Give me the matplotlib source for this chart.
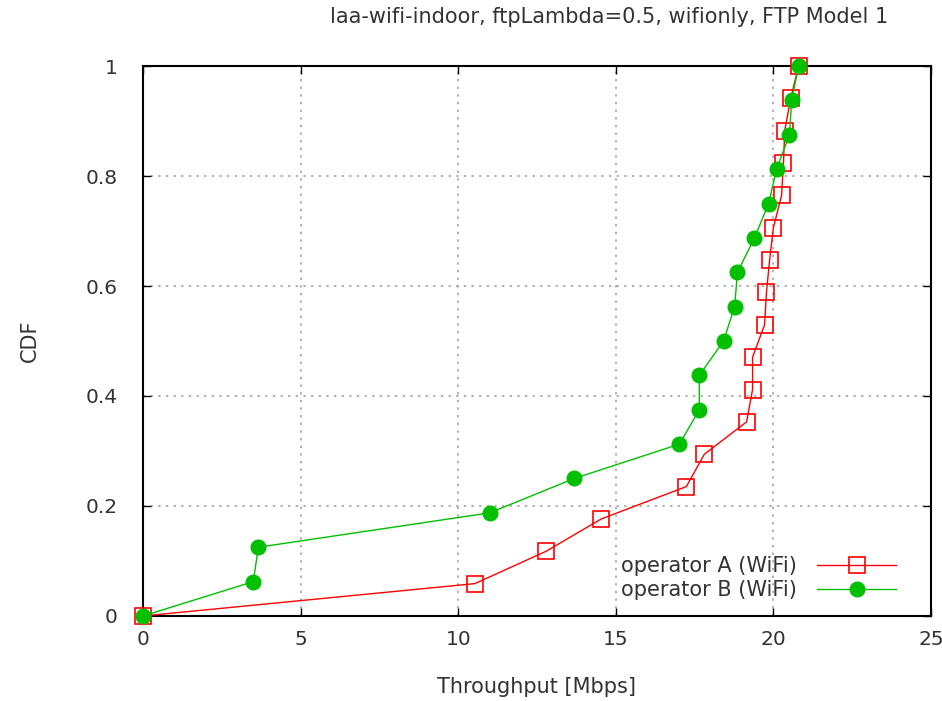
import matplotlib
matplotlib.use('Agg')
import matplotlib.pyplot as plt

# CDF data
a_thr = [0.0, 10.53, 12.79, 14.54, 17.24, 17.81, 19.15, 19.34, 19.34, 19.72,
         19.78, 19.88, 20.0, 20.26, 20.32, 20.36, 20.55, 20.8]
a_cdf = [i / 17 for i in range(18)]
b_thr = [0.0, 3.5, 3.66, 11.0, 13.68, 17.02, 17.65, 17.65, 18.42, 18.77,
         18.86, 19.4, 19.85, 20.1, 20.51, 20.58, 20.8]
b_cdf = [i / 16 for i in range(17)]

xticks = [0, 5, 10, 15, 20, 25]
yticks = [0, 0.2, 0.4, 0.6, 0.8, 1]
ytick_labels = ['0', '0.2', '0.4', '0.6', '0.8', '1']

plt.rcParams['font.family'] = ['DejaVu Sans']
plt.rcParams['font.size'] = 15

fig = plt.figure(figsize=(9.42, 7.01), dpi=100)
ax = fig.add_axes([0.1518, 0.1213, 0.8365, 0.7845])

ax.plot(a_thr, a_cdf, color='#ff0000', lw=1.0, marker='s', markersize=12,
        markerfacecolor='none', markeredgecolor='#ff0000', markeredgewidth=1.2,
        label='operator A (WiFi)', clip_on=False, zorder=3)
ax.plot(b_thr, b_cdf, color='#00c000', lw=1.0, marker='o', markersize=10.5,
        markerfacecolor='#00c000', markeredgecolor='#00c000',
        label='operator B (WiFi)', clip_on=False, zorder=4)

ax.set_xlim(0, 25)
ax.set_ylim(0, 1)
ax.set_xticks(xticks)
ax.set_yticks(yticks)
ax.set_yticklabels(ytick_labels)
ax.tick_params(direction='in', top=True, right=True, length=6, width=1,
               colors='#000000', labelcolor='#333333', labelsize=14.5)
ax.tick_params(axis='y', pad=18)
ax.tick_params(axis='x', pad=10)
for s in ax.spines.values():
    s.set_linewidth(1.5)
ax.grid(True, color='#999999', linestyle=(0, (1.5, 3.5)), linewidth=1.1)

ax.set_xlabel('Throughput [Mbps]', color='#333333', labelpad=20)
ax.set_ylabel('CDF', color='#333333', labelpad=33)
fig.suptitle('laa-wifi-indoor, ftpLambda=0.5, wifionly, FTP Model 1',
             x=0.647, y=0.99, fontsize=15, color='#333333')

ax.legend(loc='lower right', frameon=False, markerfirst=False, handlelength=3.8,
          handletextpad=1.0, bbox_to_anchor=(0.98, -0.005), fontsize=15,
          labelspacing=0.2, labelcolor='#333333')

fig.savefig('out.png', dpi=100)
